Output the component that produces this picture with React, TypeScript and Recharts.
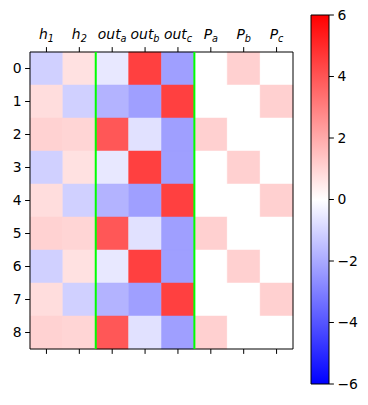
import React from "react";
import {
  ScatterChart,
  Scatter,
  XAxis,
  YAxis,
  ReferenceArea,
  ReferenceLine,
} from "recharts";

// column labels: base + subscript
const colBase = ["h", "h", "out", "out", "out", "P", "P", "P"];
const colSub = ["1", "2", "a", "b", "c", "a", "b", "c"];
const rowLabels = ["0", "1", "2", "3", "4", "5", "6", "7", "8"];

// cell values, one array per row (range -6..6)
const values: number[][] = [
  [-1.1, 0.7, -0.55, 4.5, -2.25, 0, 1.1, 0],
  [0.8, -1.1, -1.8, -2.25, 4.5, 0, 0, 1.1],
  [1.05, 1.0, 3.95, -0.7, -2.25, 1.1, 0, 0],
  [-1.1, 0.7, -0.55, 4.5, -2.25, 0, 1.1, 0],
  [0.8, -1.1, -1.8, -2.25, 4.5, 0, 0, 1.1],
  [1.05, 1.0, 3.95, -0.7, -2.25, 1.1, 0, 0],
  [-1.1, 0.7, -0.55, 4.5, -2.25, 0, 1.1, 0],
  [0.8, -1.1, -1.8, -2.25, 4.5, 0, 0, 1.1],
  [1.05, 1.0, 3.95, -0.7, -2.25, 1.1, 0, 0],
];
const separators = [1.5, 4.5];
const cbarTicks = [-6, -4, -2, 0, 2, 4, 6];
const vmax = 6;

const FONT = "DejaVu Sans";

function bwr(v: number) {
  const t = Math.max(-1, Math.min(1, v / vmax));
  const c = (x: number) => Math.round(x * 255);
  if (t >= 0) {
    const g = c(1 - t);
    return `rgb(255,${g},${g})`;
  }
  const g = c(1 + t);
  return `rgb(${g},${g},255)`;
}

const cells = values.flatMap((row, r) => row.map((v, i) => ({ x: i, y: r, v })));
const colTicks = colBase.map((_, i) => i);
const rowTicks = rowLabels.map((_, i) => i);

function TopTick(props: any) {
  const { x, y, payload } = props;
  const i = payload.value as number;
  return (
    <text x={x} y={y - 4.6} textAnchor="middle" fontFamily={FONT} fontSize={13.9} fontStyle="italic" fill="#000">
      {colBase[i]}
      <tspan fontSize={9.7} dy={3}>{colSub[i]}</tspan>
    </text>
  );
}

const minus = (v: number) => (v < 0 ? "\u2212" + Math.abs(v) : String(v));

export default function App() {
  return (
    <div style={{ position: "absolute", left: 0, top: 0, width: 368, height: 405, background: "#fff" }}>
      <div style={{ position: "absolute", left: 0, top: 0 }}>
        <ScatterChart width={300} height={380} margin={{ top: 22, right: 7, bottom: 21, left: 0 }}>
          <XAxis
            xAxisId="top"
            orientation="top"
            type="number"
            dataKey="x"
            domain={[-0.5, 7.5]}
            ticks={colTicks}
            tick={<TopTick />}
            tickSize={4.9}
            tickMargin={3.5}
            tickLine={{ stroke: "#000", strokeWidth: 1 }}
            axisLine={false}
            height={30}
            allowDataOverflow
          />
          <XAxis
            xAxisId="bottom"
            orientation="bottom"
            type="number"
            dataKey="x"
            domain={[-0.5, 7.5]}
            ticks={colTicks}
            tick={() => <g />}
            tickSize={4.9}
            tickLine={{ stroke: "#000", strokeWidth: 1 }}
            axisLine={false}
            height={10}
            allowDataOverflow
          />
          <YAxis
            type="number"
            dataKey="y"
            reversed
            domain={[-0.5, 8.5]}
            ticks={rowTicks}
            tickFormatter={(v: number) => rowLabels[v]}
            tick={{ fill: "#000", fontFamily: FONT, fontSize: 13.9 }}
            tickSize={4.9}
            tickMargin={3.5}
            tickLine={{ stroke: "#000", strokeWidth: 1 }}
            axisLine={false}
            width={30}
            allowDataOverflow
          />
          {cells.map((c) => (
            <ReferenceArea
              key={`${c.x}-${c.y}`}
              xAxisId="top"
              x1={c.x - 0.5}
              x2={c.x + 0.5}
              y1={c.y - 0.5}
              y2={c.y + 0.5}
              fill={bwr(c.v)}
              fillOpacity={1}
              stroke={bwr(c.v)}
              strokeWidth={0.5}
              ifOverflow="visible"
            />
          ))}
          {separators.map((s) => (
            <ReferenceLine key={s} xAxisId="top" x={s} stroke="#00ff00" strokeWidth={2} ifOverflow="visible" />
          ))}
          <ReferenceArea
            xAxisId="top"
            x1={-0.5}
            x2={7.5}
            y1={-0.5}
            y2={8.5}
            fill="none"
            stroke="#000"
            strokeWidth={1}
            ifOverflow="visible"
          />
          <Scatter xAxisId="top" data={cells} dataKey="y" shape={() => <g />} isAnimationActive={false} />
        </ScatterChart>
      </div>
      <div style={{ position: "absolute", left: 300, top: 0 }}>
        <ScatterChart width={68} height={405} margin={{ top: 15, right: 0, bottom: 21, left: 11 }}>
          <defs>
            <linearGradient id="bwr" x1="0" y1="0" x2="0" y2="1">
              <stop offset="0%" stopColor="#ff0000" />
              <stop offset="50%" stopColor="#ffffff" />
              <stop offset="100%" stopColor="#0000ff" />
            </linearGradient>
          </defs>
          <XAxis type="number" dataKey="x" domain={[0, 1]} hide />
          <YAxis
            orientation="right"
            type="number"
            dataKey="y"
            domain={[-vmax, vmax]}
            ticks={cbarTicks}
            tickFormatter={minus}
            tick={{ fill: "#000", fontFamily: FONT, fontSize: 13.9 }}
            tickSize={4.9}
            tickMargin={3.5}
            tickLine={{ stroke: "#000", strokeWidth: 1 }}
            axisLine={false}
            width={39}
          />
          <ReferenceArea
            x1={0}
            x2={1}
            y1={-vmax}
            y2={vmax}
            fill="url(#bwr)"
            fillOpacity={1}
            stroke="#000"
            strokeWidth={1}
            ifOverflow="visible"
          />
          <Scatter data={[{ x: 0, y: 0 }]} shape={() => <g />} isAnimationActive={false} />
        </ScatterChart>
      </div>
    </div>
  );
}
